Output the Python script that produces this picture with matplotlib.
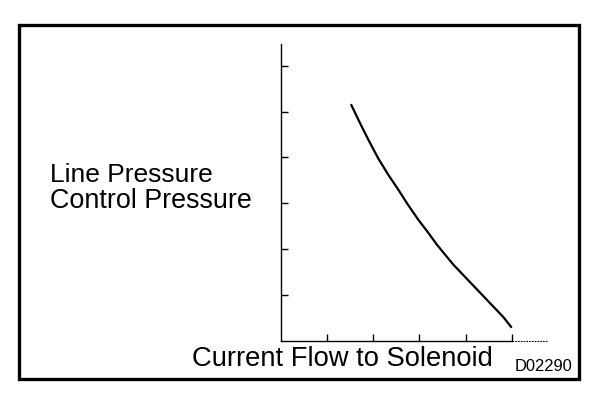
import matplotlib
matplotlib.use("Agg")
import matplotlib.pyplot as plt
from matplotlib.patches import Rectangle

# Data (arbitrary units: tick spacing = 1)
current = [1.52, 1.72, 1.90, 2.11, 2.33, 2.55, 2.76, 2.98, 3.20, 3.38,
           3.74, 4.10, 4.46, 4.82, 5.00]
pressure = [5.16, 4.74, 4.38, 3.98, 3.62, 3.29, 2.96, 2.64, 2.35, 2.10,
            1.66, 1.28, 0.90, 0.52, 0.29]
x_ticks = [1, 2, 3, 4, 5]
y_ticks = [1, 2, 3, 4, 5, 6]

y_label_lines = ["Line Pressure", "Control Pressure"]
x_label = "Current Flow to Solenoid"
code_label = "D02290"

W, H = 608, 396
fig = plt.figure(figsize=(W / 100, H / 100), dpi=100)
fig.patch.set_facecolor("white")

def fx(px):
    return px / W

def fy(py):
    return (H - py) / H

# Axes placed to match the reference pixel geometry
x0_px, x1_px = 280.7, 547.0
y0_px, y1_px = 341.0, 44.0
ax = fig.add_axes([fx(x0_px), fy(y0_px), fx(x1_px) - fx(x0_px), fy(y1_px) - fy(y0_px)])
ax.set_xlim(0, (x1_px - x0_px) / 46.2)
ax.set_ylim(0, (y0_px - y1_px) / 45.9)
ax.patch.set_alpha(0)

for s in ["top", "right"]:
    ax.spines[s].set_visible(False)
ax.spines["left"].set_linewidth(1.0)
ax.spines["bottom"].set_linewidth(1.0)
ax.spines["bottom"].set_bounds(0, 5.0)
ax.plot([5.0, ax.get_xlim()[1]], [0, 0], color="black", lw=0.8,
        linestyle=(0, (1.5, 1.0)), clip_on=False)

ax.set_xticks(x_ticks)
ax.set_yticks(y_ticks)
ax.set_xticklabels([])
ax.set_yticklabels([])
ax.tick_params(axis="x", direction="in", length=5.2, width=1.0, color="black")
ax.tick_params(axis="y", direction="in", length=4.8, width=1.0, color="black")

ax.plot(current, pressure, color="black", lw=1.6, solid_capstyle="butt",
        solid_joinstyle="round")

font = "Liberation Sans"
fig.text(fx(50), fy(182.3), y_label_lines[0], fontsize=19, family=font,
         ha="left", va="baseline")
fig.text(fx(50), fy(208.3), y_label_lines[1], fontsize=19.4, family=font,
         ha="left", va="baseline")
fig.text(fx(192.3), fy(366), x_label, fontsize=19.7, family=font,
         ha="left", va="baseline")
fig.text(fx(515), fy(370.7), code_label, fontsize=11.9, family=font,
         ha="left", va="baseline")

# Outer frame
fig.patches.append(Rectangle((fx(19.3), fy(379.0)), fx(579.3) - fx(19.3),
                             fy(24.7) - fy(379.0), transform=fig.transFigure,
                             fill=False, edgecolor="black", linewidth=2.4))

fig.savefig("out.png", dpi=100, facecolor="white")
